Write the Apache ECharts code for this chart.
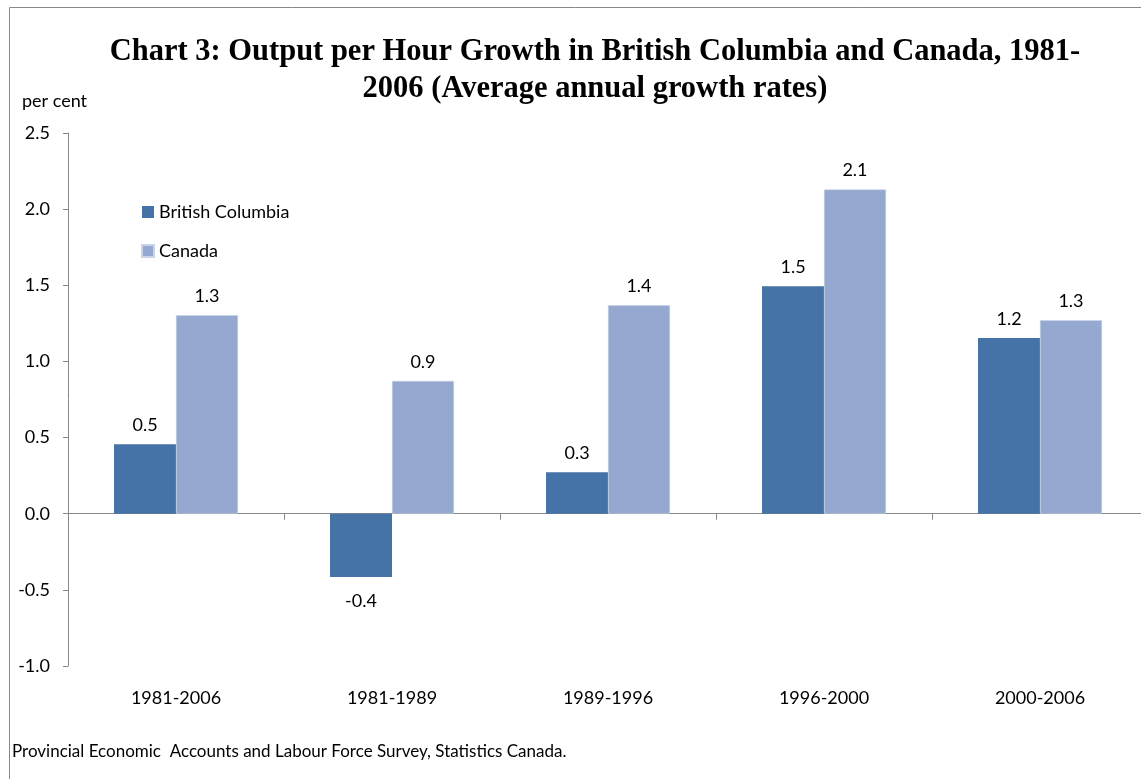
<!DOCTYPE html>
<html>
<head>
<meta charset="utf-8">
<script src="https://cdn.jsdelivr.net/npm/echarts@6/dist/echarts.min.js"></script>
<style>
html,body{margin:0;padding:0;background:#fff;}
#EchartBox{width:1141px;height:779px;}
</style>
</head>
<body>
<div id="EchartBox"></div>
<script>
// periods on the x axis
var periods = ['1981-2006', '1981-1989', '1989-1996', '1996-2000', '2000-2006'];
// average annual growth, per cent
var bcValues = [0.456, -0.415, 0.272, 1.494, 1.154];
var canadaValues = [1.303, 0.872, 1.369, 2.129, 1.27];
var seriesNames = ['British Columbia', 'Canada'];
var yTicks = { min: -1.0, max: 2.5, step: 0.5 };

var labelFont = 'Lato, "Open Sans", sans-serif';

// negative bars get their label below the bar
function toBarData(arr) {
	var out = [];
	for (var i = 0; i < arr.length; i++) {
		if (arr[i] < 0) {
			out.push({ value: arr[i], label: { position: 'bottom', distance: 15 } });
		} else {
			out.push(arr[i]);
		}
	}
	return out;
}

var barLabel = {
	show: true,
	position: 'top',
	distance: 10,
	fontFamily: labelFont,
	fontSize: 18,
	color: '#000',
	formatter: function (p) { return Number(p.value).toFixed(1); }
};

var myChart = echarts.init(document.getElementById('EchartBox'));

var option = {
	backgroundColor: '#fff',
	animation: false,
	title: {
		text: 'Chart 3: Output per Hour Growth in British Columbia and Canada, 1981-\n2006 (Average annual growth rates)',
		left: 590,
		textAlign: 'center',
		top: 29,
		textStyle: {
			fontFamily: '"Liberation Serif", "Times New Roman", serif',
			fontWeight: 'bold',
			fontSize: 30.5,
			lineHeight: 37,
			color: '#000'
		}
	},
	legend: {
		orient: 'vertical',
		left: 141,
		top: 203,
		padding: 0,
		itemWidth: 12,
		itemHeight: 12,
		itemGap: 21,
		icon: 'rect',
		data: seriesNames,
		textStyle: { fontFamily: labelFont, fontSize: 18, color: '#000' }
	},
	graphic: [
		{ type: 'rect', shape: { x: 9.5, y: 7.5, width: 1300, height: 900 }, style: { fill: 'none', stroke: '#888', lineWidth: 1 }, silent: true },
		{ type: 'text', left: 22, top: 92, style: { text: 'per cent', font: '18px ' + labelFont, fill: '#000' } },
		{ type: 'text', left: 12, top: 743, style: { text: 'Provincial Economic  Accounts and Labour Force Survey, Statistics Canada.', font: '17px ' + labelFont, fill: '#000' } }
	],
	// the plot runs past the right edge of the picture
	grid: { left: 68, width: 1080, top: 133, bottom: 113, containLabel: false, outerBoundsMode: 'none' },
	xAxis: [
		{
			type: 'category',
			data: periods,
			axisLine: { onZero: true, lineStyle: { color: '#888', width: 1 } },
			axisTick: { show: true, length: 6, lineStyle: { color: '#888' } },
			axisLabel: { show: false },
			splitLine: { show: false }
		},
		{
			type: 'category',
			data: periods,
			position: 'bottom',
			axisLine: { show: false },
			axisTick: { show: false },
			axisLabel: { show: true, margin: 23, fontFamily: labelFont, fontSize: 18, color: '#000' },
			splitLine: { show: false }
		}
	],
	yAxis: {
		type: 'value',
		min: yTicks.min,
		max: yTicks.max,
		interval: yTicks.step,
		axisLine: { show: true, lineStyle: { color: '#888', width: 1 } },
		axisTick: { show: true, length: 5, lineStyle: { color: '#888' } },
		axisLabel: {
			margin: 18,
			fontFamily: labelFont,
			fontSize: 18,
			color: '#000',
			formatter: function (v) { return v.toFixed(1); }
		},
		splitLine: { show: false }
	},
	series: [
		{
			name: seriesNames[0],
			type: 'bar',
			xAxisIndex: 0,
			data: toBarData(bcValues),
			barGap: '0%',
			barCategoryGap: '42.6%',
			itemStyle: { color: '#4572A7' },
			label: barLabel
		},
		{
			name: seriesNames[1],
			type: 'bar',
			xAxisIndex: 0,
			data: toBarData(canadaValues),
			barGap: '0%',
			barCategoryGap: '42.6%',
			itemStyle: { color: '#95A9D0', borderColor: '#C9D4EA', borderWidth: 0.5 },
			label: barLabel
		}
	]
};

myChart.setOption(option);
</script>
</body>
</html>
